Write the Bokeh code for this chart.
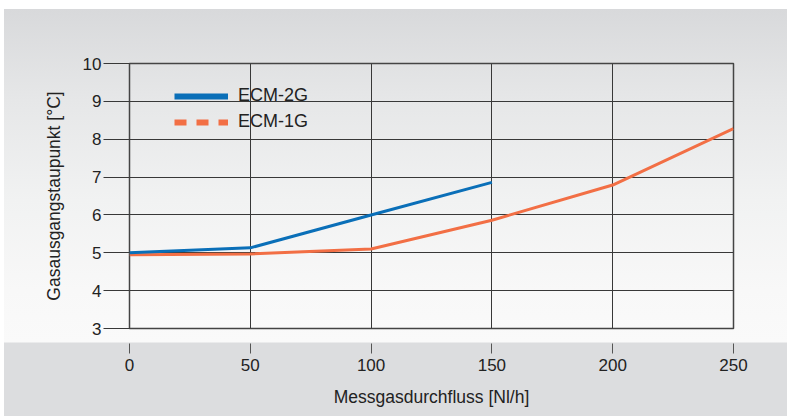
from bokeh.plotting import figure
from bokeh.models import Range1d, FixedTicker, Legend, LegendItem
from bokeh.embed import file_html
from bokeh.resources import INLINE

flow_2g = [0, 50, 100, 150]
dew_2g = [5.0, 5.13, 6.0, 6.86]
flow_1g = [0, 50, 100, 150, 200, 250]
dew_1g = [4.95, 4.97, 5.1, 5.86, 6.79, 8.28]
x_ticks = [0, 50, 100, 150, 200, 250]
y_ticks = [3, 4, 5, 6, 7, 8, 9, 10]
series_names = ["ECM-2G", "ECM-1G"]

BLUE = "#0a6fb8"
ORANGE = "#f26f45"
TXT = "#222222"
FONT = "Liberation Sans"

bg = ("linear-gradient(to right, #ffffff 4px, rgba(255,255,255,0) 4px), "
      "linear-gradient(to bottom, #ffffff 9px, #d8d9db 9px, #e6e7e8 100px, "
      "#f1f2f2 200px, #f8f8f8 290px, #fafafa 342px, #dcdddf 343px, #dcdddf 100%)")

p = figure(width=787, height=416, output_backend="svg", toolbar_location=None,
           x_range=Range1d(0, 250), y_range=Range1d(3, 10),
           min_border_left=129, min_border_right=54, min_border_top=63, min_border_bottom=88,
           background_fill_color=None, border_fill_color=None,
           outline_line_color="#444444", outline_line_width=1.5,
           styles={"background": bg})

# grid
for ax_grid in (p.xgrid, p.ygrid):
    ax_grid.grid_line_color = "#383838"
    ax_grid.grid_line_width = 1
p.xaxis.ticker = FixedTicker(ticks=x_ticks)
p.yaxis.ticker = FixedTicker(ticks=y_ticks)
p.xgrid.ticker = FixedTicker(ticks=x_ticks)
p.ygrid.ticker = FixedTicker(ticks=y_ticks)

# y axis
ya = p.yaxis[0]
ya.axis_line_color = None
ya.major_tick_in = 0
ya.major_tick_out = 26
ya.major_tick_line_color = "#383838"
ya.minor_tick_line_color = None
ya.major_label_standoff = 2
ya.major_label_text_font = FONT
ya.major_label_text_font_size = "17px"
ya.major_label_text_color = TXT
ya.axis_label = "Gasausgangstaupunkt [°C]"
ya.axis_label_text_font = FONT
ya.axis_label_text_font_size = "17.5px"
ya.axis_label_text_font_style = "normal"
ya.axis_label_text_color = TXT
ya.axis_label_standoff = 16

# x axis
xa = p.xaxis[0]
xa.axis_line_color = None
xa.major_tick_in = -15
xa.major_tick_out = 25
xa.major_tick_line_color = "#555555"
xa.minor_tick_line_color = None
xa.major_label_standoff = 5
xa.major_label_text_font = FONT
xa.major_label_text_font_size = "17px"
xa.major_label_text_color = TXT
xa.axis_label = "Messgasdurchfluss [Nl/h]"
xa.axis_label_text_font = FONT
xa.axis_label_text_font_size = "17.5px"
xa.axis_label_text_font_style = "normal"
xa.axis_label_text_color = TXT
xa.axis_label_standoff = 13

# data lines
p.line(flow_1g, dew_1g, line_color=ORANGE, line_width=3)
p.line(flow_2g, dew_2g, line_color=BLUE, line_width=3)

# legend proxies (thicker glyphs, like the reference key)
leg_2g = p.line([float("nan")], [float("nan")], line_color=BLUE, line_width=6)
leg_1g = p.line([float("nan")], [float("nan")], line_color=ORANGE, line_width=6, line_dash="12 10")

legend = Legend(items=[LegendItem(label=series_names[0], renderers=[leg_2g]),
                       LegendItem(label=series_names[1], renderers=[leg_1g])],
                location=(45, 196), margin=0, padding=0, spacing=5,
                glyph_width=54, glyph_height=20, label_standoff=10,
                label_text_font=FONT, label_text_font_size="18px", label_text_color=TXT,
                background_fill_alpha=0, border_line_color=None)
p.add_layout(legend, "center")

open("out.html", "w").write(file_html(p, INLINE))
